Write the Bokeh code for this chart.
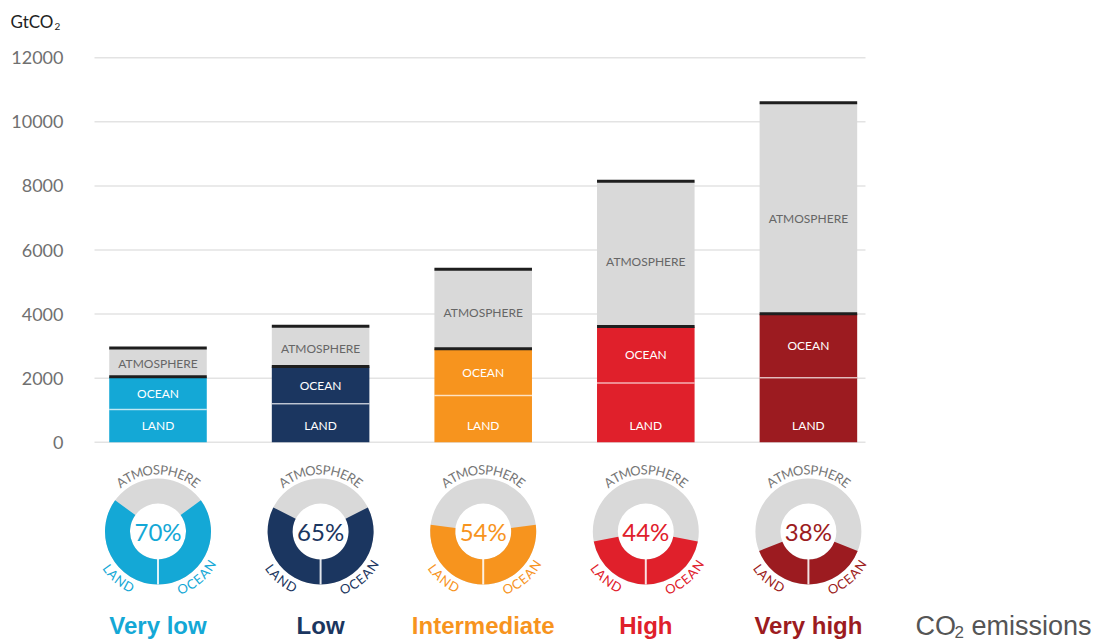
import math

from bokeh.plotting import figure
from bokeh.models import Range1d, ColumnDataSource
from bokeh.core.properties import value
from bokeh.embed import file_html
from bokeh.resources import INLINE

# ---- data -------------------------------------------------------------
scenarios = ["Very low", "Low", "Intermediate", "High", "Very high"]
land = [1020, 1200, 1460, 1850, 2010]          # GtCO2 taken up by land
ocean = [1020, 1160, 1460, 1760, 2000]         # GtCO2 taken up by ocean
atmosphere = [900, 1260, 2480, 4540, 6590]     # GtCO2 remaining in the air
sink_pct = [70, 65, 54, 44, 38]                # share taken up by land + ocean
y_ticks = [0, 2000, 4000, 6000, 8000, 10000, 12000]

colors = ["#14A8D6", "#1B3660", "#F7941E", "#E0202B", "#9C1B20"]
ATM_GREY = "#D9D9D9"

# ---- layout helpers ---------------------------------------------------
W, H = 1099, 640
STEP_PX = 162.6        # pixels between neighbouring scenarios
X0_PX = 157.5          # pixel column of the first scenario
ZERO_PX = 441.7        # pixel row of the value 0
UPP = 12000 / 384.4    # GtCO2 per pixel on the value axis


def dx(px):
    return px / STEP_PX


def dy(px):
    return px * UPP


def row(canvas_y):
    return (ZERO_PX - canvas_y) * UPP


def col(canvas_x):
    return (canvas_x - X0_PX) / STEP_PX


idx = list(range(len(scenarios)))
n = len(idx)
sink = [l + o for l, o in zip(land, ocean)]
total = [s + a for s, a in zip(sink, atmosphere)]

p = figure(
    width=W, height=H,
    x_range=Range1d(col(0), col(W)),
    y_range=Range1d(row(H), row(0)),
    output_backend="svg", toolbar_location=None,
    x_axis_location=None, y_axis_location=None,
    min_border=0, outline_line_color=None,
    background_fill_color="white", border_fill_color="white",
)
p.grid.visible = False

# value scale: guide lines over the bar area and their labels
gx0, gx1 = col(94), col(865)
p.segment(x0=[gx0] * len(y_ticks), x1=[gx1] * len(y_ticks), y0=y_ticks, y1=y_ticks,
          line_color="#E3E3E3", line_width=1.5)
p.text(x=[col(63)] * len(y_ticks), y=y_ticks, text=[str(t) for t in y_ticks],
       text_font=value("Lato"), text_font_size="18px", text_color="#707070",
       text_align="right", text_baseline="middle")

# unit label above the value scale
unit_y = row(21)
unit_font = dict(text_font=value("Lato"), text_color="#222222",
                 text_align="left", text_baseline="middle")
p.text(x=[col(10)], y=[unit_y], text=["GtCO"], text_font_size="17px", **unit_font)
p.text(x=[col(54)], y=[unit_y - dy(5)], text=["2"], text_font_size="10px", **unit_font)

# ---- stacked bars -----------------------------------------------------
BW = 0.6
p.vbar(x=idx, bottom=0, top=land, width=BW, fill_color=colors, line_color=None)
p.vbar(x=idx, bottom=land, top=sink, width=BW, fill_color=colors, line_color=None)
p.vbar(x=idx, bottom=sink, top=total, width=BW, fill_color=ATM_GREY, line_color=None)

x_left = [i - BW / 2 for i in idx]
x_right = [i + BW / 2 for i in idx]
p.segment(x0=x_left, x1=x_right, y0=land, y1=land,
          line_color="white", line_alpha=0.65, line_width=1.5)
p.segment(x0=x_left, x1=x_right, y0=sink, y1=sink,
          line_color="#1E1E1E", line_width=3)
p.segment(x0=x_left, x1=x_right, y0=total, y1=total,
          line_color="#1E1E1E", line_width=3)

bar_font = dict(text_font=value("Lato"), text_font_size="12px",
                text_align="center", text_baseline="middle")
p.text(x=idx, y=[s + 0.45 * a for s, a in zip(sink, atmosphere)],
       text=["ATMOSPHERE"] * n, text_color="#666666", **bar_font)
p.text(x=idx, y=[l + o / 2 for l, o in zip(land, ocean)],
       text=["OCEAN"] * n, text_color="white", **bar_font)
p.text(x=idx, y=[min(l / 2, 520) for l in land],
       text=["LAND"] * n, text_color="white", **bar_font)

# ---- donuts: share of emissions taken up by land and ocean ------------
DONUT_Y = row(531)
R_OUT, R_IN = 53, 28
half = [v * 1.8 for v in sink_pct]  # half of the coloured arc, degrees

ring = dict(inner_radius=R_IN, outer_radius=R_OUT,
            inner_radius_units="screen", outer_radius_units="screen")
p.annulus(x=idx, y=[DONUT_Y] * n, fill_color=ATM_GREY, line_color=None, **ring)
p.annular_wedge(x=idx, y=[DONUT_Y] * n,
                start_angle=[270 - h for h in half], end_angle=[270] * n,
                start_angle_units="deg", end_angle_units="deg",
                fill_color=colors, line_color=None, **ring)
p.annular_wedge(x=idx, y=[DONUT_Y] * n,
                start_angle=[270] * n, end_angle=[270 + h for h in half],
                start_angle_units="deg", end_angle_units="deg",
                fill_color=colors, line_color=None, **ring)
p.ray(x=idx, y=[DONUT_Y] * n, length=R_OUT, length_units="screen",
      angle=-90, angle_units="deg", line_color="white", line_alpha=0.85, line_width=2)

p.text(x=idx, y=[DONUT_Y] * n, text=[f"{v}%" for v in sink_pct],
       text_color=colors, text_font=value("Lato"), text_font_size="24px",
       text_align="center", text_baseline="middle")

# letters laid out along the ring
ADV = {"A": .68, "T": .58, "M": .86, "O": .78, "S": .53, "P": .60, "H": .77,
       "E": .57, "R": .63, "L": .50, "N": .76, "D": .76, "C": .66}
ARC_R = 62
ARC_SIZE = 13.5


def arc_word(word, centre_deg, clockwise):
    widths = [ADV[ch] * ARC_SIZE for ch in word]
    total_w = sum(widths)
    out = []
    run = 0.0
    for ch, w in zip(word, widths):
        s = run + w / 2 - total_w / 2
        run += w
        d = math.degrees(s / ARC_R)
        th = centre_deg - d if clockwise else centre_deg + d
        rot = th - 90 if clockwise else th + 90
        out.append((ch, th, rot))
    return out


rx, ry, rt, ra, rc = [], [], [], [], []
for i in idx:
    for word, centre, cw, colr in (("ATMOSPHERE", 90, True, "#777777"),
                                   ("LAND", 230, False, colors[i]),
                                   ("OCEAN", 310, False, colors[i])):
        for ch, th, rot in arc_word(word, centre, cw):
            t = math.radians(th)
            rx.append(i + dx(ARC_R * math.cos(t)))
            ry.append(DONUT_Y + dy(ARC_R * math.sin(t)))
            rt.append(ch)
            ra.append(math.radians(rot))
            rc.append(colr)

p.text(x="x", y="y", text="t", angle="a", text_color="c",
       source=ColumnDataSource(dict(x=rx, y=ry, t=rt, a=ra, c=rc)),
       text_font=value("Lato"), text_font_size="13px",
       text_align="center", text_baseline="middle")

# ---- scenario names ---------------------------------------------------
LABEL_Y = row(625)
p.text(x=idx, y=[LABEL_Y] * n, text=scenarios, text_color=colors,
       text_font=value("Liberation Sans"), text_font_style="bold",
       text_font_size="24px", text_align="center", text_baseline="middle")

em_x = col(915)
em_font = dict(text_font=value("Liberation Sans"), text_color="#555555",
               text_align="left", text_baseline="middle")
p.text(x=[em_x], y=[LABEL_Y], text=["CO"], text_font_size="27px", **em_font)
p.text(x=[em_x + dx(39)], y=[LABEL_Y - dy(6)], text=["2"], text_font_size="17px", **em_font)
p.text(x=[em_x + dx(56)], y=[LABEL_Y], text=["emissions"], text_font_size="27px", **em_font)

open("out.html", "w").write(file_html(p, INLINE))
